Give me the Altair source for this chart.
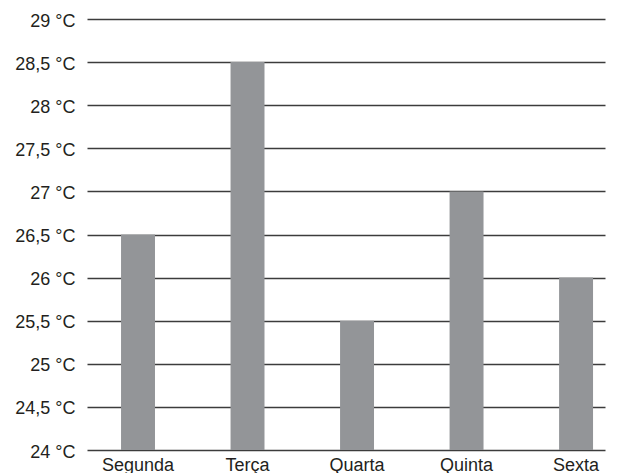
import altair as alt
import pandas as pd

days = ["Segunda", "Terça", "Quarta", "Quinta", "Sexta"]
temps = [26.5, 28.5, 25.5, 27.0, 26.0]
y_ticks = [24, 24.5, 25, 25.5, 26, 26.5, 27, 27.5, 28, 28.5, 29]

df = pd.DataFrame({"dia": days, "temp": temps, "base": [24] * len(days)})

chart = alt.Chart(df).mark_bar(color="#939598").encode(
    x=alt.X("dia:N", sort=days, title=None,
            scale=alt.Scale(paddingInner=0.69, paddingOuter=0.21, align=0.74),
            axis=alt.Axis(labelAngle=0, ticks=False, domain=False, labelPadding=6,
                          labelFont="Liberation Sans", labelFontSize=18,
                          labelColor="#231f20")),
    y=alt.Y("temp:Q", title=None,
            scale=alt.Scale(domain=[24, 29], zero=False, nice=False),
            axis=alt.Axis(values=y_ticks, ticks=False, domain=False, grid=True,
                          gridColor="#3c3c3c", gridWidth=1.4, gridOpacity=1,
                          labelPadding=12, labelOffset=2, labelFont="Liberation Sans",
                          labelFontSize=18, labelColor="#231f20",
                          labelExpr="replace(format(datum.value, '.1~f'), '.', ',') + ' °C'")),
    y2="base:Q",
).properties(
    width=518, height=431,
    autosize=alt.AutoSizeParams(type="none"),
    padding={"left": 79, "top": 11, "right": 5, "bottom": 23},
).configure_view(stroke=None).configure_axis(zindex=0)

chart.save("out.html", embed_options={"renderer": "svg", "actions": False})
